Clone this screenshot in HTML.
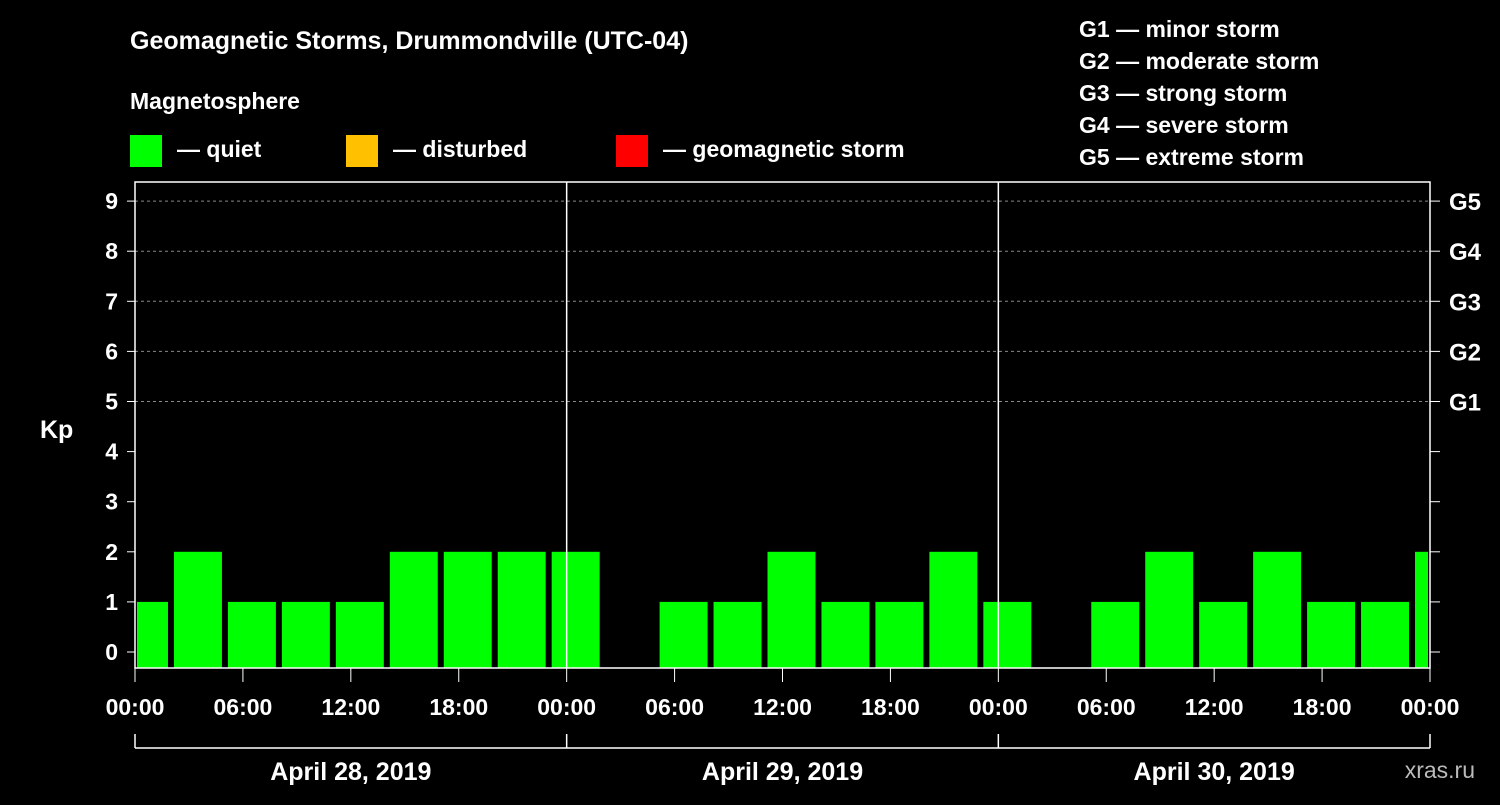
<!DOCTYPE html>
<html><head><meta charset="utf-8"><style>
body{margin:0;background:#000;}
svg text{font-family:"Liberation Sans",Arial,sans-serif;font-weight:bold;fill:#fff;}
</style></head><body>
<svg id="chart" width="1500" height="800" xmlns="http://www.w3.org/2000/svg">
<rect width="1500" height="800" fill="#000"/>
<text x="130" y="49" font-size="25">Geomagnetic Storms, Drummondville (UTC-04)</text>
<text x="130" y="109" font-size="23">Magnetosphere</text>
<rect x="130" y="135" width="32" height="32" fill="#00ff00"/>
<text x="177" y="157" font-size="23">— quiet</text>
<rect x="346" y="135" width="32" height="32" fill="#ffc000"/>
<text x="393" y="157" font-size="23">— disturbed</text>
<rect x="616" y="135" width="32" height="32" fill="#ff0000"/>
<text x="663" y="157" font-size="23">— geomagnetic storm</text>
<g font-size="23">
<text x="1079" y="37">G1 — minor storm</text>
<text x="1079" y="69">G2 — moderate storm</text>
<text x="1079" y="101">G3 — strong storm</text>
<text x="1079" y="133">G4 — severe storm</text>
<text x="1079" y="165">G5 — extreme storm</text>
</g>
<text x="40" y="438" font-size="25">Kp</text>
<text x="1475" y="778" font-size="23" fill="#bbb" style="fill:#bbb;font-weight:normal" text-anchor="end">xras.ru</text>
<g id="plot"></g>
</svg>
<script>
const kpValues=[1,2,1,1,1,2,2,2,2,null,1,1,2,1,1,2,1,null,1,2,1,2,1,1,2];
const yTicks=[0,1,2,3,4,5,6,7,8,9];
const gLabels=["G1","G2","G3","G4","G5"];
const xTickLabels=["00:00","06:00","12:00","18:00","00:00","06:00","12:00","18:00","00:00","06:00","12:00","18:00","00:00"];
const dayLabels=["April 28, 2019","April 29, 2019","April 30, 2019"];
const X0=135,X1=1430,TOTAL=72,firstOffset=-1,slotHours=3;
const xs=h=>X0+(X1-X0)*h/TOTAL;
const ys=v=>652-50.1*v;
const NS="http://www.w3.org/2000/svg";
const g=document.getElementById('plot');
function mk(t,a,txt){const e=document.createElementNS(NS,t);for(const k in a)e.setAttribute(k,a[k]);if(txt!=null)e.textContent=txt;g.appendChild(e);return e;}
// grid
yTicks.forEach(v=>{
 if(v>=5){const l=mk('line',{x1:X0,x2:X1,y1:ys(v),y2:ys(v),stroke:'#888','stroke-dasharray':'3,3','stroke-width':1});
 
 }
 const t=mk('text',{x:118,y:ys(v)+8,'font-size':23,'text-anchor':'end'},String(v));
 
 
 const tk=mk('line',{x1:X0-8,x2:X0,y1:ys(v),y2:ys(v),stroke:'#fff'});
 
 
 const tr=mk('line',{x1:X1,x2:X1+10,y1:ys(v),y2:ys(v),stroke:'#fff'});
 
 
 if(v>=5){const gl=mk('text',{x:1449,y:ys(v)+9,'font-size':24},gLabels[v-5]);
 
 }
});
// bars
kpValues.forEach((v,i)=>{
 if(v==null)return;
 let h0=firstOffset+i*slotHours,h1=h0+slotHours;
 let a=xs(h0)+3,b=xs(h1)-3;
 if(h0<0)a=xs(0)+2; if(h1>TOTAL)b=xs(TOTAL)-2;
 const r=mk('rect',{x:a,y:ys(v),width:b-a,height:668-ys(v),fill:v>=5?'#ff0000':(v>=4?'#ffc000':'#00ff00')});
 
 
});
// frame
const fr=mk('rect',{x:X0,y:182,width:X1-X0,height:486,fill:'none',stroke:'#fff','stroke-width':1.5});


[24,48].forEach(h=>{const l=mk('line',{x1:xs(h),x2:xs(h),y1:182,y2:668,stroke:'#fff','stroke-width':1.5});
 
 });
xTickLabels.forEach((s,i)=>{
 const x=xs(i*6);
 const tk=mk('line',{x1:x,x2:x,y1:668,y2:682,stroke:'#fff'});
 
 
 const t=mk('text',{x:x,y:715,'font-size':23,'text-anchor':'middle'},s);
 
 
});
const br=mk('line',{x1:X0,x2:X1,y1:748,y2:748,stroke:'#fff','stroke-width':1.5});


[0,24,48,72].forEach(h=>{const l=mk('line',{x1:xs(h),x2:xs(h),y1:734,y2:748,stroke:'#fff','stroke-width':1.5});
 
 });
dayLabels.forEach((d,i)=>{const t=mk('text',{x:xs(i*24+12),y:780,'font-size':25,'text-anchor':'middle'},d);
 
 });
</script>
</body></html>
